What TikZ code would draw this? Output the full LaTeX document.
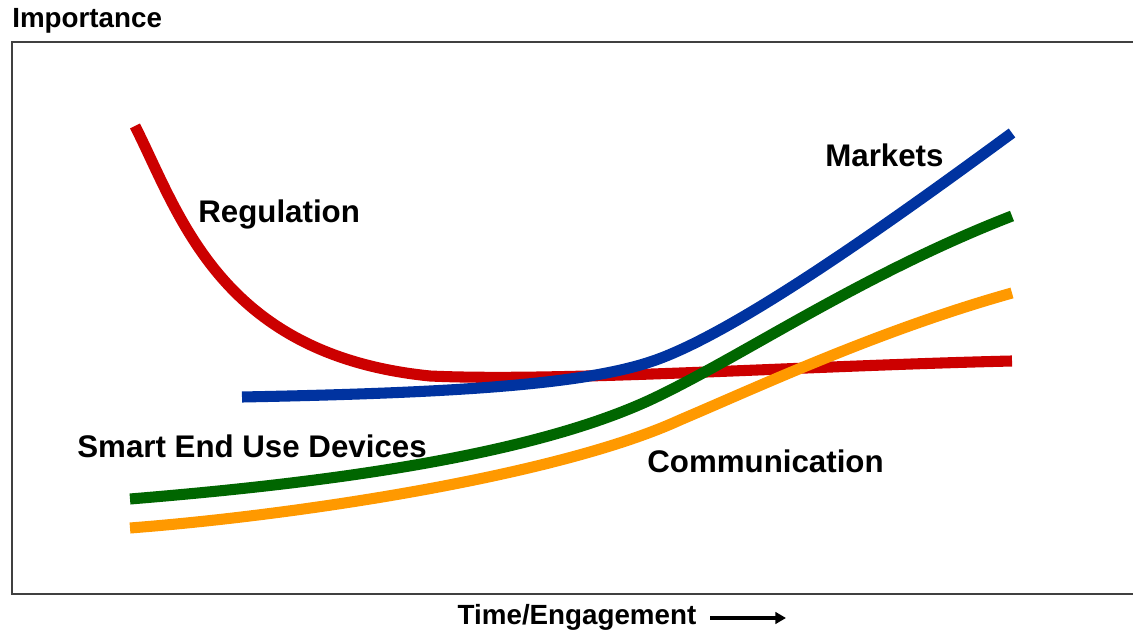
\documentclass[tikz,border=0pt]{standalone}
\usepackage{fontspec}
\setmainfont{Liberation Sans}
\usetikzlibrary{arrows.meta}

\definecolor{regred}{RGB}{204,0,0}
\definecolor{mktblue}{RGB}{0,51,160}
\definecolor{devgreen}{RGB}{0,102,0}
\definecolor{comorange}{RGB}{255,153,0}

\begin{document}
\begin{tikzpicture}[x=0.02cm,y=-0.02cm,
    curve/.style={line width=6.3pt},
    lbl/.style={font=\bfseries\fontsize{17.8}{20}\selectfont, inner sep=0pt},
    axlbl/.style={font=\bfseries\fontsize{15.8}{18}\selectfont, inner sep=0pt}]
  \useasboundingbox (0,0) rectangle (1133,634);

  % frame (right side runs off the page)
  \draw[line width=1.2pt, black!75] (1133,42) -- (12,42) -- (12,594) -- (1133,594);

  % curves
  \draw[curve, regred] (135,126) .. controls (180,215) and (220,355) .. (430,376)
    .. controls (560,382) and (800,366) .. (1012,361);
  \draw[curve, mktblue] (242,397) .. controls (450,393) and (580,385) .. (650,362)
    .. controls (730,336) and (880,230) .. (1012,133);
  \draw[curve, devgreen] (130,499) .. controls (300,485) and (520,460) .. (650,400)
    .. controls (740,358) and (860,275) .. (1012,216);
  \draw[curve, comorange] (130,528) .. controls (300,515) and (560,475) .. (680,420)
    .. controls (760,386) and (880,330) .. (1012,293);

  % labels
  \node[lbl, anchor=base west] (regulation) at (198,223) {Regulation};
  \node[lbl, anchor=base west] (markets) at (825,167) {Markets};
  \node[lbl, anchor=base west] (devices) at (77,458) {Smart End Use Devices};
  \node[lbl, anchor=base west] (communication) at (647,473) {Communication};

  % axes
  \node[axlbl, anchor=base west] (importance) at (12,28) {Importance};
  \node[axlbl, anchor=base] (time) at (577,625) {Time/Engagement};
  \coordinate (arrowstart) at (710,618);
  \coordinate (arrowend) at (786,618);
  \draw[line width=2pt, -{Triangle[length=6pt,width=6.5pt]}] (arrowstart) -- (arrowend);
\end{tikzpicture}
\end{document}
